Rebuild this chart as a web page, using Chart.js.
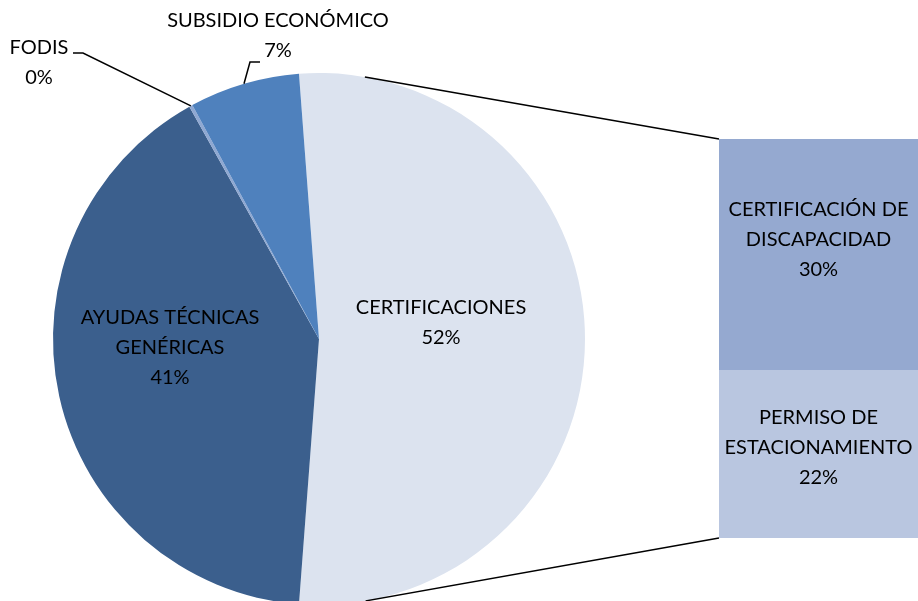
<!DOCTYPE html>
<html>
<head>
<meta charset="utf-8">
<script src="https://cdn.jsdelivr.net/npm/chart.js@4.4.1/dist/chart.umd.min.js"></script>
<style>
  html, body { margin: 0; padding: 0; background: #fff; }
  #wrap { position: relative; width: 918px; height: 601px; overflow: hidden; }
  #wrap canvas { position: absolute; left: 0; top: 0; }
</style>
</head>
<body>
<div id="wrap">
  <canvas id="pie" width="918" height="700"></canvas>
  <canvas id="bar" width="918" height="601"></canvas>
</div>
<script>
// main pie: first slice is the one broken out into the bar on the right
const mainLabels = ['CERTIFICACIONES', 'AYUDAS TÉCNICAS\nGENÉRICAS', 'FODIS', 'SUBSIDIO ECONÓMICO'];
const mainValues = [52.4, 40.7, 0.2, 6.7];
const subLabels = ['CERTIFICACIÓN DE\nDISCAPACIDAD', 'PERMISO DE\nESTACIONAMIENTO'];
const subValues = [30.3, 22.1];

const mainColors = ['#DCE3EF', '#3B5F8D', '#8FA8D2', '#4F81BD'];
const subColors = ['#95A9D0', '#B9C6E0'];

const FONT = '20px Lato, "Open Sans", sans-serif';
const LINE_H = 30;

const total = mainValues.reduce((a, b) => a + b, 0);
const subTotal = subValues.reduce((a, b) => a + b, 0);
const pct = v => Math.round(v / total * 100) + '%';

function drawLines(ctx, lines, x, y) {
  ctx.save();
  ctx.font = FONT;
  ctx.fillStyle = '#000';
  ctx.textAlign = 'center';
  ctx.textBaseline = 'middle';
  const y0 = y - (lines.length - 1) * LINE_H / 2;
  lines.forEach((t, i) => ctx.fillText(t, x, y0 + i * LINE_H));
  ctx.restore();
}

// label placement per slice: inside ones are offsets from the pie centre,
// outside ones have a leader line (elbow + end) and a text anchor
const pieLabelPos = [
  { dx: 122, dy: -16 },
  { dx: -149, dy: 9 },
  { elbow: [83, 53], end: [73, 53], text: [39, 63] },
  { elbow: [250, 62], end: [260, 62], text: [278, 36] }
];

const pieLabels = {
  id: 'pieLabels',
  afterDatasetsDraw(chart) {
    const ctx = chart.ctx;
    const arcs = chart.getDatasetMeta(0).data;
    arcs.forEach((arc, i) => {
      const p = pieLabelPos[i];
      const lines = mainLabels[i].split('\n').concat(pct(mainValues[i]));
      if (p.elbow) {
        const mid = (arc.startAngle + arc.endAngle) / 2;
        const sx = arc.x + arc.outerRadius * Math.cos(mid);
        const sy = arc.y + arc.outerRadius * Math.sin(mid);
        ctx.save();
        ctx.strokeStyle = '#000';
        ctx.lineWidth = 1.5;
        ctx.beginPath();
        ctx.moveTo(sx, sy);
        ctx.lineTo(p.elbow[0], p.elbow[1]);
        ctx.lineTo(p.end[0], p.end[1]);
        ctx.stroke();
        ctx.restore();
        drawLines(ctx, lines, p.text[0], p.text[1]);
      } else {
        drawLines(ctx, lines, arc.x + p.dx, arc.y + p.dy);
      }
    });
  }
};

const pieChart = new Chart(document.getElementById('pie'), {
  type: 'pie',
  data: {
    labels: mainLabels,
    datasets: [{ data: mainValues, backgroundColor: mainColors, borderWidth: 0 }]
  },
  options: {
    responsive: false,
    animation: false,
    rotation: 90 - mainValues[0] / total * 180,
    layout: { padding: { left: 53, top: 73, right: 333, bottom: 95 } },
    plugins: { legend: { display: false }, tooltip: { enabled: false } }
  },
  plugins: [pieLabels]
});

// tangent lines from the bar corners to the pie circle
const connectors = {
  id: 'connectors',
  afterDatasetsDraw(chart) {
    const arc = pieChart.getDatasetMeta(0).data[0];
    const cx = arc.x, cy = arc.y, r = arc.outerRadius;
    const bar = chart.getDatasetMeta(0).data[0];
    const left = bar.x - bar.width / 2;
    const yTop = chart.scales.y.getPixelForValue(0);
    const yBot = chart.scales.y.getPixelForValue(subTotal);
    const ctx = chart.ctx;
    ctx.save();
    ctx.strokeStyle = '#000';
    ctx.lineWidth = 1.5;
    [[yTop, -1], [yBot, 1]].forEach(([py, sgn]) => {
      const d = Math.hypot(left - cx, py - cy);
      const th = Math.atan2(py - cy, left - cx) + sgn * Math.acos(r / d);
      ctx.beginPath();
      ctx.moveTo(cx + r * Math.cos(th), cy + r * Math.sin(th));
      ctx.lineTo(left, py);
      ctx.stroke();
    });
    ctx.restore();
  }
};

const barLabelDy = [-15, -6];
const barLabels = {
  id: 'barLabels',
  afterDatasetsDraw(chart) {
    subLabels.forEach((l, i) => {
      const el = chart.getDatasetMeta(i).data[0];
      const cy = (el.y + el.base) / 2 + barLabelDy[i];
      drawLines(chart.ctx, l.split('\n').concat(pct(subValues[i])), el.x, cy);
    });
  }
};

new Chart(document.getElementById('bar'), {
  type: 'bar',
  data: {
    labels: [''],
    datasets: subLabels.map((l, i) => ({
      label: l,
      data: [subValues[i]],
      backgroundColor: subColors[i],
      borderWidth: 0,
      barPercentage: 1,
      categoryPercentage: 1
    }))
  },
  options: {
    responsive: false,
    animation: false,
    layout: { padding: { left: 719, top: 139, right: 0, bottom: 63 } },
    scales: {
      x: { display: false, stacked: true },
      y: { display: false, stacked: true, reverse: true, min: 0, max: subTotal }
    },
    plugins: { legend: { display: false }, tooltip: { enabled: false } }
  },
  plugins: [connectors, barLabels]
});
</script>
</body>
</html>
